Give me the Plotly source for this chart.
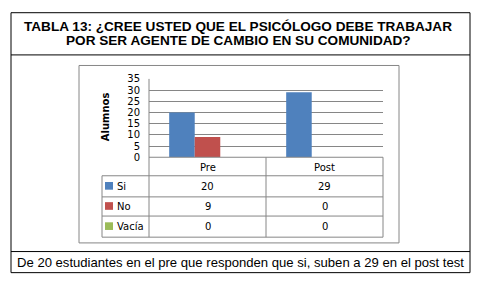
import plotly.graph_objects as go

categories = ["Pre", "Post"]
series_names = ["Si", "No", "Vacía"]
si_values = [20, 29]
no_values = [9, 0]
vacia_values = [0, 0]
y_ticks = [0, 5, 10, 15, 20, 25, 30, 35]
title_lines = ["TABLA 13: ¿CREE USTED QUE EL PSICÓLOGO DEBE TRABAJAR",
               "POR SER AGENTE DE CAMBIO EN SU COMUNIDAD?"]
footer_text = "De 20 estudiantes en el pre que responden que si, suben a 29 en el post test"
y_title = "Alumnos"

W, H = 484, 294
colors = ["#4F81BD", "#C0504D", "#9BBB59"]
grid = "#868686"
series_values = [si_values, no_values, vacia_values]

def px(x):
    return x / W

def py(y):
    return 1 - y / H

fig = go.Figure()
for name, vals, c in zip(series_names, series_values, colors):
    fig.add_trace(go.Bar(x=categories, y=vals, name=name, marker=dict(color=c, line=dict(width=0))))

PL, PR, PT, PB = 149, 383, 76, 157.7
fig.update_layout(
    width=W, height=H, margin=dict(l=0, r=0, t=0, b=0),
    paper_bgcolor="white", plot_bgcolor="white",
    showlegend=False, barmode="group", bargap=0.345, bargroupgap=0,
    font=dict(family="DejaVu Sans", size=10, color="black"),
    xaxis=dict(domain=[px(PL), px(PR)], showticklabels=False, showgrid=False,
               zeroline=False, showline=False, fixedrange=True),
    yaxis=dict(domain=[py(PB), py(PT)], range=[0, 35], tickvals=y_ticks,
               showgrid=True, gridcolor=grid, gridwidth=1, zeroline=False,
               showline=False, ticks="", ticklabelstandoff=8, fixedrange=True,
               tickfont=dict(family="DejaVu Sans", size=10)),
)

shapes = []
def line(x0, y0, x1, y1, color=grid, width=1):
    shapes.append(dict(type="line", xref="paper", yref="paper", x0=px(x0), y0=py(y0),
                       x1=px(x1), y1=py(y1), line=dict(color=color, width=width)))

# outer black box
line(11, 7, 470, 7, "black")
line(11, 7, 11, 278, "black")
line(470, 7, 470, 278, "black")
line(11, 278, 470, 278, "black")
line(11, 51, 470, 51, "black")
line(11, 256, 470, 256, "black")
# chart frame
line(79, 62, 399, 62)
line(79, 62, 79, 247)
line(399, 62, 399, 247)
line(79, 247, 399, 247)
# table
rows = [177, 199, 219, 241]
line(PL, PB, PR, PB)
for r in rows:
    line(102, r, PR, r)
line(102, 177, 102, 241)
line(PL, PT, PL, 241)
line(266, PB, 266, 241)
line(PR, PB, PR, 241)

annotations = []
def text(t, x, y, size=10, family="DejaVu Sans", xanchor="center", **kw):
    annotations.append(dict(text=t, x=px(x), y=py(y), xref="paper", yref="paper",
                            xanchor=xanchor, yanchor="middle", showarrow=False,
                            font=dict(family=family, size=size, color="black"), **kw))

for t, ty in zip(title_lines, [21, 35.5]):
    text("<b>" + t + "</b>", 238, ty, size=13.6, family="Liberation Sans")
text(footer_text, 240.5, 267, size=13.1, family="Liberation Sans")
text("<b>" + y_title + "</b>", 105, 116, textangle=-90)
col_centers = [207.5, 324.5]
for cat, cx in zip(categories, col_centers):
    text(cat, cx, 168)
row_centers = [188, 209, 230]
for name, vals, c, ry in zip(series_names, series_values, colors, row_centers):
    shapes.append(dict(type="rect", xref="paper", yref="paper", x0=px(105), x1=px(113),
                       y0=py(ry - 4.5), y1=py(ry + 3.5), fillcolor=c, line=dict(width=0)))
    text(name, 115, ry, xanchor="left")
    for v, cx in zip(vals, col_centers):
        text(str(v), cx, ry)

fig.update_layout(shapes=shapes, annotations=annotations)
fig.write_html("out.html", config={"displayModeBar": False},
               post_script="document.body.style.margin='0';document.body.style.overflow='hidden';")
